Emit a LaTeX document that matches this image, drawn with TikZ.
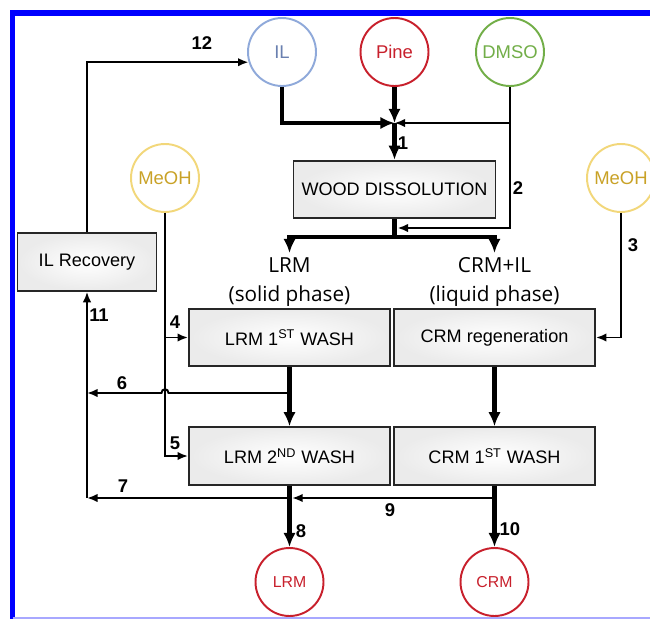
\documentclass[tikz,border=0pt]{standalone}
\usepackage{fontspec}
\setmainfont{Liberation Sans}
\newfontfamily\fasefont{Open Sans}
\usetikzlibrary{arrows.meta}
\definecolor{ilborde}{HTML}{8FA9DA}
\definecolor{iltexto}{HTML}{6A80B0}
\definecolor{rojo}{HTML}{C8202C}
\definecolor{verde}{HTML}{72AE48}
\definecolor{amarillo}{HTML}{F2D77A}
\definecolor{ocre}{HTML}{C9A227}
\definecolor{marco}{HTML}{0000FF}
\definecolor{lavanda}{HTML}{A8A8FF}

\begin{document}
\begin{tikzpicture}[x=0.02cm,y=-0.02cm,
  etapa/.style={draw=black!85,line width=1.1pt,inner color=white,outer color=gray!16,
    minimum height=1.15cm,inner sep=0pt,font=\fontsize{10.3}{12}\selectfont},
  fuente/.style={circle,line width=1.1pt,minimum size=1.36cm,inner sep=0pt,fill=white,
    font=\fontsize{10.5}{12}\selectfont},
  metanol/.style={fuente,draw=amarillo,text=ocre},
  producto/.style={fuente,draw=rojo,text=rojo,font=\fontsize{9}{11}\selectfont},
  fino/.style={line width=1.1pt,-{Latex[length=6pt,width=4.8pt]}},
  grueso/.style={line width=2.3pt,-{Latex[length=8pt,width=7pt]}},
  num/.style={font=\bfseries\fontsize{10.5}{12}\selectfont,inner sep=0pt},
  fase/.style={align=center,font=\fasefont\fontsize{11.8}{16.4}\selectfont,inner sep=2.5pt}]

\useasboundingbox (0,0) rectangle (650,619);

% Marco
\draw[marco,line width=3.4pt] (12.5,619) -- (12.5,13) -- (650,13);
\draw[lavanda,line width=1pt] (12.5,618) -- (650,618);

% Entradas
\node[fuente,draw=ilborde,text=iltexto] (il) at (282,52) {IL};
\node[fuente,draw=rojo,text=rojo] (pine) at (394.5,52) {Pine};
\node[fuente,draw=verde,text=verde] (dmso) at (510,52) {DMSO};
\node[metanol] (meohL) at (165,178) {MeOH};
\node[metanol] (meohR) at (621,178) {MeOH};

% Etapas
\node[etapa,minimum width=4.04cm] (dissol) at (394.5,189.5) {WOOD DISSOLUTION};
\node[etapa,minimum width=2.78cm] (ilrec) at (87,262) {IL Recovery};
\node[etapa,minimum width=4.02cm] (wash1) at (289.5,337.5) {LRM 1\textsuperscript{ST} WASH};
\node[etapa,minimum width=4.02cm] (regen) at (494.5,337.5) {CRM regeneration};
\node[etapa,minimum width=4.02cm] (wash2) at (289.5,456) {LRM 2\textsuperscript{ND} WASH};
\node[etapa,minimum width=4.02cm] (crmwash) at (494.5,456) {CRM 1\textsuperscript{ST} WASH};

% Fases
\node[fase,anchor=north] (lrmfase) at (289.5,253) {LRM\\(solid phase)};
\node[fase,anchor=north] (crmfase) at (494.5,253) {CRM+IL\\(liquid phase)};

% Productos
\node[producto] (lrm) at (289.5,582) {LRM};
\node[producto] (crm) at (494.5,582) {CRM};

% Puntos de union
\coordinate (jn) at (394.5,123);
\coordinate (j2) at (397.5,228);
\coordinate (sp) at (394.5,237);
\coordinate (c6) at (289.5,393);
\coordinate (c7) at (289.5,498);
\coordinate (c9) at (494.5,498);
\coordinate (w6) at (ilrec |- c6);
\coordinate (w7) at (ilrec |- c7);
\coordinate (cruce) at (meohL |- c6);

% Disolucion
\draw[grueso] (il) |- (jn);
\draw[grueso] (pine) -- (jn);
\draw[fino] (dmso) |- (jn);
\draw[fino] (dmso) |- (j2);
\draw[grueso] (jn) -- (dissol);
\draw[line width=2.3pt] (dissol) -- (sp);
\draw[grueso] (sp) -| (lrmfase.north);
\draw[grueso] (sp) -| (crmfase.north);

% Lavados
\draw[fino] (meohL) |- (wash1);
\draw[fino] (meohL) |- (wash2);
\draw[fino] (meohR) |- (regen);
\draw[grueso] (wash1) -- (wash2);
\draw[grueso] (regen) -- (crmwash);
\draw[grueso] (wash2) -- (lrm);
\draw[grueso] (crmwash) -- (crm);

% Recirculacion
\draw[fino] (c6) -- ([xshift=0.07cm]cruce) .. controls +(0,-5) and +(0,-5) .. ([xshift=-0.07cm]cruce) -- (w6);
\draw[fino,shorten >=1.5pt] (c9) -- (c7);
\draw[fino] (c7) -- (w7);
\draw[fino] (w7) -- (ilrec);
\draw[fino] (ilrec) |- (il.197);

% Numeros
\node[num] (n1) at (403,143) {1};
\node[num] (n2) at (518,188) {2};
\node[num] (n3) at (633,245) {3};
\node[num] (n4) at (175,322) {4};
\node[num] (n5) at (175,443) {5};
\node[num] (n6) at (122,383) {6};
\node[num] (n7) at (123,486) {7};
\node[num] (n8) at (301,531) {8};
\node[num] (n9) at (390,510) {9};
\node[num] (n10) at (510,529) {10};
\node[num] (n11) at (99,315) {11};
\node[num] (n12) at (202,43) {12};

\end{tikzpicture}
\end{document}
